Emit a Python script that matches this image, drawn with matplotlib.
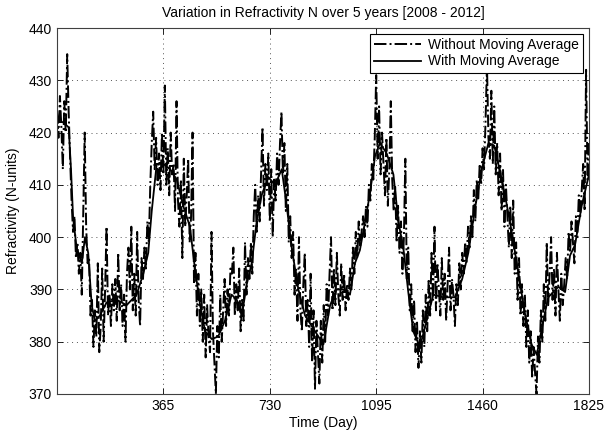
import matplotlib
matplotlib.use('Agg')
import matplotlib.pyplot as plt
import numpy as np

raw_start = 0
raw_step = 5
raw_vals = [
    424, 419, 427, 421, 413, 426, 420, 435, 424, 415,
    407, 401, 404, 396, 399, 393, 397, 389, 404, 420,
    402, 395, 396, 385, 388, 379, 386, 381, 395, 378,
    383, 394, 380, 390, 402, 385, 389, 383, 391, 386,
    392, 384, 397, 386, 391, 383, 389, 380, 393, 398,
    390, 402, 386, 393, 385, 401, 388, 383, 396, 392,
    398, 394, 403, 399, 410, 418, 424, 413, 419, 410,
    416, 409, 420, 412, 429, 410, 417, 408, 420, 412,
    414, 405, 426, 407, 402, 411, 396, 415, 402, 408,
    415, 399, 404, 420, 391, 397, 385, 393, 383, 390,
    380, 389, 377, 387, 381, 378, 401, 382, 376, 370,
    383, 377, 389, 380, 386, 392, 383, 390, 385, 394,
    393, 398, 385, 391, 386, 394, 382, 388, 384, 399,
    389, 396, 392, 399, 393, 404, 410, 401, 408, 403,
    412, 421, 406, 414, 409, 416, 403, 413, 400, 411,
    407, 416, 410, 418, 424, 412, 418, 405, 414, 399,
    404, 396, 401, 389, 394, 384, 400, 386, 382, 391,
    397, 383, 388, 379, 393, 376, 386, 371, 384, 378,
    372, 384, 376, 387, 380, 391, 385, 393, 400, 386,
    394, 387, 397, 389, 385, 395, 388, 393, 386, 391,
    388, 394, 390, 398, 393, 401, 396, 403, 398, 401,
    404, 400, 406, 402, 410, 407, 414, 411, 419, 431,
    415, 425, 412, 420, 414, 408, 419, 406, 413, 426,
    411, 405, 410, 399, 406, 397, 403, 393, 400, 415,
    392, 398, 386, 391, 382, 388, 378, 384, 375, 382,
    376, 386, 379, 389, 382, 392, 385, 397, 388, 402,
    386, 395, 390, 385, 396, 388, 393, 384, 391, 398,
    386, 392, 389, 383, 391, 387, 395, 390, 397, 393,
    399, 395, 402, 398, 404, 400, 409, 403, 411, 407,
    414, 410, 417, 413, 422, 433, 419, 415, 428, 414,
    425, 412, 418, 408, 416, 405, 413, 402, 410, 404,
    398, 406, 396, 407, 393, 399, 388, 396, 385, 391,
    383, 389, 379, 386, 376, 382, 373, 379, 374, 370,
    381, 376, 386, 380, 391, 384, 399, 387, 393, 400,
    388, 394, 385, 397, 390, 384, 393, 387, 391, 396,
    392, 401, 397, 403, 399, 395, 404, 400, 408, 404,
    409, 414, 405, 432, 411, 418,
]

# moving average curve
ma_days = [0, 20, 40, 48, 55, 67, 79, 85, 96, 107, 119, 130, 147, 170, 205,
           239, 273, 296, 313, 325, 342, 365, 388, 411, 433, 456, 473, 491,
           508, 531, 553, 576, 599, 617, 634, 651, 668, 685, 702, 725, 748,
           771, 788, 805, 828, 851, 885, 914, 937, 959, 982, 1005, 1022, 1039,
           1057, 1074, 1091, 1108, 1131, 1154, 1171, 1188, 1205, 1222, 1245,
           1268, 1291, 1325, 1365, 1390, 1411, 1434, 1457, 1480, 1500, 1514,
           1537, 1560, 1583, 1605, 1628, 1646, 1663, 1685, 1720, 1743, 1760,
           1777, 1800, 1825]
ma_vals = [422, 422, 421, 413, 404, 398, 396, 395, 400, 397, 387, 384, 385,
           387.5, 388, 387, 389, 393, 397, 405, 414, 414, 413, 411, 406, 402,
           394, 387, 382, 380.5, 381, 384, 389, 388, 385, 391, 395, 403, 408,
           411.5, 410, 413, 406, 398, 390, 385, 382, 379.5, 387, 390, 390, 389,
           395, 397.5, 403, 408.5, 415.5, 418, 416, 412, 403, 398, 389.5, 382,
           379, 384, 389, 388.5, 388.5, 392, 397, 405.5, 413, 418, 417.5, 414,
           408, 401, 393, 385.5, 379.5, 377.5, 382.5, 388.5, 390.5, 389.5,
           396.5, 398.5, 406, 412]

xticks = [365, 730, 1095, 1460, 1825]
yticks = [370, 380, 390, 400, 410, 420, 430, 440]

plt.rcParams['font.family'] = ['Liberation Sans', 'DejaVu Sans']
plt.rcParams['font.size'] = 10

raw_days = raw_start + raw_step * np.arange(len(raw_vals))

fig = plt.figure(figsize=(6.05, 4.32), dpi=100)
ax = fig.add_axes([57 / 605, 38 / 432, 532 / 605, 366 / 432])

ax.plot(raw_days, raw_vals, color='k', linestyle='-.', linewidth=1.4,
        label='Without Moving Average')
ax.plot(ma_days, ma_vals, color='k', linestyle='-', linewidth=1.3,
        label='With Moving Average')

ax.set_xlim(0, 1825)
ax.set_ylim(370, 440)
ax.set_xticks(xticks)
ax.set_yticks(yticks)
ax.grid(True, linestyle=(0, (1, 4)), color='#555555', linewidth=0.7)
ax.tick_params(direction='in', top=True, right=True, length=4, width=0.6,
               labelsize=10)
for s in ax.spines.values():
    s.set_color('#404040')
    s.set_linewidth(0.8)

ax.set_title('Variation in Refractivity N over 5 years [2008 - 2012]',
             fontsize=10, pad=8)
ax.set_xlabel('Time (Day)', fontsize=10, labelpad=2)
ax.set_ylabel('Refractivity (N-units)', fontsize=10, labelpad=6)

leg = ax.legend(loc='upper right', fancybox=False, framealpha=1,
                edgecolor='k', fontsize=10, handlelength=3.4,
                borderaxespad=0.4, borderpad=0.3, labelspacing=0.2,
                handletextpad=0.5)
leg.get_frame().set_linewidth(0.8)

fig.savefig('out.png', dpi=100)
